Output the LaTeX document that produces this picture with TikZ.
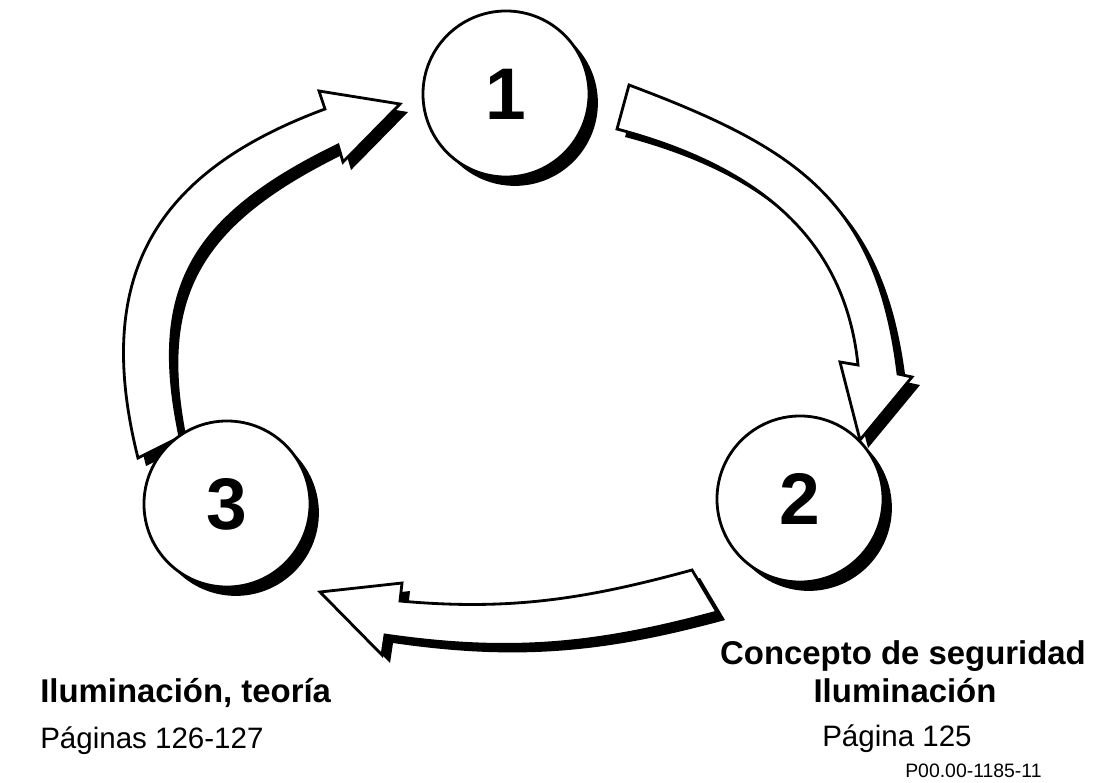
\documentclass[tikz,border=0pt]{standalone}
\usepackage{fontspec}
\setmainfont{Liberation Sans}
\usetikzlibrary{shadows}

\begin{document}
\begin{tikzpicture}[x=0.025cm, y=-0.025cm,
    stage/.style={circle, draw, line width=2pt, fill=white, minimum size=4.15cm, inner sep=0pt,
      font=\bfseries\fontsize{52}{60}\selectfont,
      general shadow={fill=black, shadow xshift=6.3pt, shadow yshift=-6.3pt}},
    bigarrow/.style={draw, line width=2pt, fill=white, line join=miter,
      general shadow={fill=black, shadow xshift=5.7pt, shadow yshift=-5.7pt}},
    headline/.style={font=\bfseries\fontsize{23.4}{28}\selectfont, inner sep=0pt},
    pageref/.style={font=\fontsize{21}{25}\selectfont, inner sep=0pt}]
  \useasboundingbox (0,0) rectangle (1103,782);
  % arrow 1 -> 2
  \path[bigarrow] (629,85) .. controls (797,148) and (877,200) .. (898,374)
    -- (912,377) -- (860,440) -- (840,362) -- (858,365)
    .. controls (846,249) and (772,170) .. (617,129) -- cycle;
  % arrow 2 -> 3
  \path[bigarrow] (692,570) .. controls (586,599) and (510,611) .. (400,601)
    -- (402,583) -- (320,592) -- (382,655) -- (385,635)
    .. controls (509,653) and (596,645) .. (717,612) -- cycle;
  % arrow 3 -> 1
  \path[bigarrow] (138,458) .. controls (93,279) and (152,173) .. (325,109)
    -- (319,91) -- (400,104) -- (343,162) -- (338,145)
    .. controls (190,217) and (149,290) .. (180,437) -- cycle;
  % stages
  \node[stage] (n1) at (506,94) {1};
  \node[stage] (n2) at (800,499) {2};
  \node[stage] (n3) at (227,504) {3};
  % labels
  \node[headline, anchor=base] (t2a) at (903,664) {Concepto de seguridad};
  \node[headline, anchor=base] (t2b) at (905,702) {Iluminación};
  \node[pageref, anchor=base west] (p2) at (822,746) {Página 125};
  \node[headline, anchor=base west] (t3) at (40,702) {Iluminación, teoría};
  \node[pageref, anchor=base west] (p3) at (40,748) {Páginas 126-127};
  \node[font=\fontsize{13.8}{16}\selectfont, inner sep=0pt, anchor=base west] (code) at (905,777) {P00.00-1185-11};
\end{tikzpicture}
\end{document}
